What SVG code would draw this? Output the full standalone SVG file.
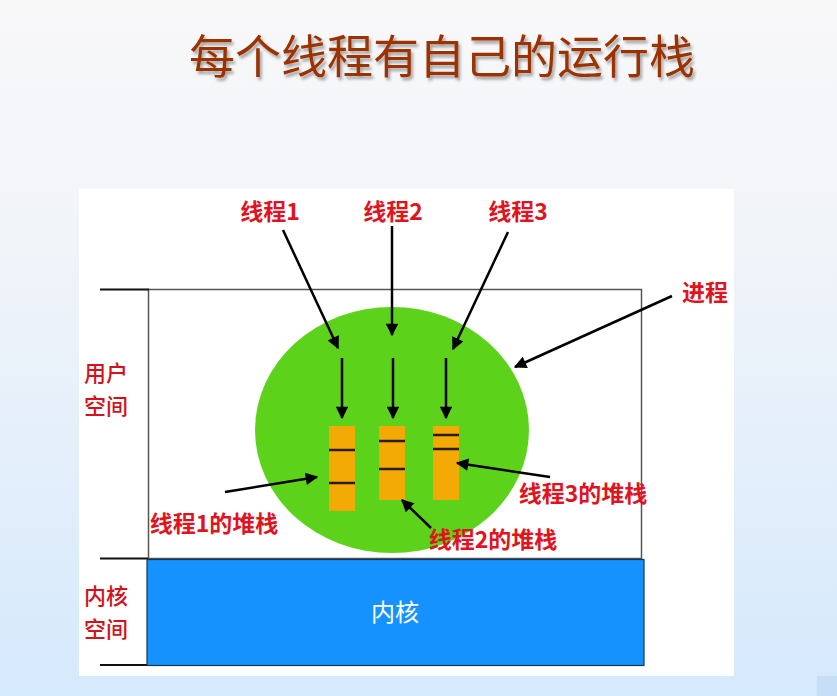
<svg xmlns="http://www.w3.org/2000/svg" width="837" height="696" viewBox="0 0 837 696">
  <defs>
    <linearGradient id="bg" x1="0" y1="0" x2="0" y2="1">
      <stop offset="0" stop-color="#f8f8f9"/>
      <stop offset="0.35" stop-color="#f1f4f9"/>
      <stop offset="1" stop-color="#d5e9fc"/>
    </linearGradient>
    <filter id="shadow" x="-5%" y="-20%" width="110%" height="150%">
      <feDropShadow dx="2" dy="3" stdDeviation="1.5" flood-color="#000" flood-opacity="0.35"/>
    </filter>
    <marker id="arrow" viewBox="0 0 10 10" refX="9" refY="5" markerWidth="5.5" markerHeight="5" markerUnits="strokeWidth" orient="auto">
      <path d="M0,0 L10,5 L0,10 Z" fill="#000"/>
    </marker>
    <clipPath id="panelClip">
      <rect x="79" y="189" width="655" height="487"/>
    </clipPath>
  </defs>
  <style>
    .title { font-family: "Noto Sans CJK SC", "Noto Sans", sans-serif; font-size: 46px; fill: #9c3306; }
    .label { font-family: "Noto Sans CJK SC", "Liberation Sans", sans-serif; font-size: 23px; font-weight: bold; fill: #e0141e; text-anchor: middle; }
    .side { font-family: "Noto Sans CJK SC", "Liberation Sans", sans-serif; font-size: 22px; font-weight: 500; fill: #d3121c; }
    .frame { fill: none; stroke: #555; stroke-width: 1.5; }
    .tick { stroke: #111; stroke-width: 2; }
    .arrow { stroke: #000; stroke-width: 2.5; fill: none; marker-end: url(#arrow); }
    .stack { fill: #f4aa05; }
    .sep { stroke: #2a1a00; stroke-width: 2.5; }
  </style>

  <!-- page background -->
  <rect x="0" y="0" width="837" height="696" fill="url(#bg)"/>
  <rect x="817" y="676" width="20" height="20" fill="#c6dff7"/>

  <!-- heading -->
  <text class="title" x="442" y="73" text-anchor="middle" filter="url(#shadow)">每个线程有自己的运行栈</text>

  <!-- white figure panel -->
  <rect x="79" y="189" width="655" height="487" fill="#ffffff"/>

  <!-- user space frame -->
  <g id="user-space">
    <rect class="frame" x="148.5" y="289.5" width="493" height="269"/>
    <line class="tick" x1="100" y1="289.5" x2="149" y2="289.5"/>
    <line class="tick" x1="100" y1="558.5" x2="148" y2="558.5"/>
    <line class="tick" x1="100" y1="665" x2="148" y2="665"/>
    <text class="side" x="84" y="381">用户</text>
    <text class="side" x="84" y="414">空间</text>
  </g>

  <!-- kernel block -->
  <g id="kernel">
    <rect x="147" y="559.5" width="497" height="106" fill="#1592fe" stroke="#1a3550" stroke-width="1.2"/>
    <text x="395" y="621" font-family="'Noto Sans CJK SC', 'Liberation Sans', sans-serif" font-size="24" fill="#ffffff" text-anchor="middle">内核</text>
    <text class="side" x="84" y="604">内核</text>
    <text class="side" x="84" y="637">空间</text>
  </g>

  <!-- process -->
  <g id="process">
    <ellipse cx="392" cy="430" rx="137" ry="123" fill="#5dd21b"/>
    <text class="label" x="705" y="301">进程</text>
  </g>

  <!-- thread stacks -->
  <g id="stack-1">
    <rect class="stack" x="329" y="426" width="26" height="85"/>
    <line class="sep" x1="329" y1="450" x2="355" y2="450"/>
    <line class="sep" x1="329" y1="483" x2="355" y2="483"/>
    <text class="label" x="214" y="532">线程1的堆栈</text>
  </g>
  <g id="stack-2">
    <rect class="stack" x="379" y="426" width="26" height="74"/>
    <line class="sep" x1="379" y1="441" x2="405" y2="441"/>
    <line class="sep" x1="379" y1="469" x2="405" y2="469"/>
    <text class="label" x="493" y="548">线程2的堆栈</text>
  </g>
  <g id="stack-3">
    <rect class="stack" x="433" y="426" width="26" height="74"/>
    <line class="sep" x1="433" y1="435" x2="459" y2="435"/>
    <line class="sep" x1="433" y1="449" x2="459" y2="449"/>
    <text class="label" x="583" y="502">线程3的堆栈</text>
  </g>

  <!-- threads -->
  <g id="thread-1"><text class="label" x="270" y="220">线程1</text></g>
  <g id="thread-2"><text class="label" x="393" y="220">线程2</text></g>
  <g id="thread-3"><text class="label" x="518" y="220">线程3</text></g>

  <!-- connectors -->
  <g id="connectors">
    <line class="arrow" x1="283" y1="230" x2="338" y2="348"/>
    <line class="arrow" x1="392" y1="226" x2="392" y2="335"/>
    <line class="arrow" x1="508" y1="232" x2="453" y2="349"/>
    <line class="arrow" x1="342" y1="358" x2="342" y2="418"/>
    <line class="arrow" x1="393" y1="358" x2="393" y2="418"/>
    <line class="arrow" x1="446" y1="358" x2="446" y2="418"/>
    <line class="arrow" x1="672" y1="296" x2="515" y2="367"/>
    <line class="arrow" x1="225" y1="492" x2="317" y2="477"/>
    <line class="arrow" x1="431" y1="528" x2="402" y2="500"/>
    <line class="arrow" x1="550" y1="477" x2="457" y2="463"/>
  </g>

  <!-- faint watermark at the panel's lower edge -->
  <g clip-path="url(#panelClip)">
    <text x="562" y="683" font-family="'Noto Sans CJK SC', sans-serif" font-size="18" fill="#ffffff" fill-opacity="0.8">知乎 @</text>
  </g>
</svg>
